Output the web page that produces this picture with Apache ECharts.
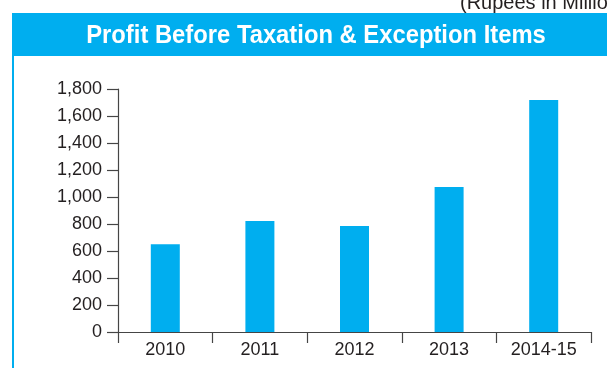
<!DOCTYPE html>
<html>
<head>
<meta charset="utf-8">
<script src="https://cdn.jsdelivr.net/npm/echarts@6/dist/echarts.min.js"></script>
<style>
html,body{margin:0;padding:0;background:#fff;}
#chart{width:607px;height:368px;}
</style>
</head>
<body>
<div id="chart"></div>
<script>
var categories = ['2010', '2011', '2012', '2013', '2014-15'];
var profitValues = [650, 822, 786, 1074, 1718];
var yTicks = { min: 0, max: 1800, interval: 200 };
var titleText = 'Profit Before Taxation & Exception Items';
var unitText = '(Rupees in Million)';

var chart = echarts.init(document.getElementById('chart'), null, { renderer: 'canvas' });
var axisColor = '#454545';
var textColor = '#231f20';
var blue = '#00aeef';

chart.setOption({
  animation: false,
  backgroundColor: '#ffffff',
  graphic: [
    { type: 'rect', shape: { x: 12, y: 13, width: 610, height: 43 }, style: { fill: blue }, silent: true },
    { type: 'rect', shape: { x: 12, y: 56, width: 2, height: 320 }, style: { fill: blue }, silent: true },
    { type: 'text', x: 316, y: 36, scaleX: 0.915, originX: 0, originY: 0,
      style: { text: titleText, fill: '#ffffff', font: 'bold 26px "Liberation Sans", sans-serif', textAlign: 'center', textVerticalAlign: 'middle' }, silent: true },
    { type: 'text', x: 460, y: 13,
      style: { text: unitText, fill: textColor, font: '20px "Liberation Sans", sans-serif', textAlign: 'left', textVerticalAlign: 'bottom' }, silent: true }
  ],
  grid: { left: 118, right: 16, top: 89, bottom: 36, containLabel: false },
  xAxis: {
    type: 'category',
    data: categories,
    boundaryGap: true,
    axisLine: { show: true, lineStyle: { color: axisColor, width: 1.2 } },
    axisTick: { show: true, alignWithLabel: false, length: 11, lineStyle: { color: axisColor, width: 1.2 } },
    axisLabel: { color: textColor, fontSize: 18, fontFamily: 'Liberation Sans', margin: 9 },
    splitLine: { show: false }
  },
  yAxis: {
    type: 'value',
    min: yTicks.min,
    max: yTicks.max,
    interval: yTicks.interval,
    axisLine: { show: true, lineStyle: { color: axisColor, width: 1.2 } },
    axisTick: { show: true, length: 11, lineStyle: { color: axisColor, width: 1.2 } },
    axisLabel: {
      color: textColor, fontSize: 18, fontFamily: 'Liberation Sans', margin: 16,
      formatter: function (v) { return v.toLocaleString('en-US'); }
    },
    splitLine: { show: false }
  },
  series: [{
    type: 'bar',
    data: profitValues,
    barWidth: 29,
    itemStyle: { color: blue },
    z: 1
  }]
});
</script>
</body>
</html>
